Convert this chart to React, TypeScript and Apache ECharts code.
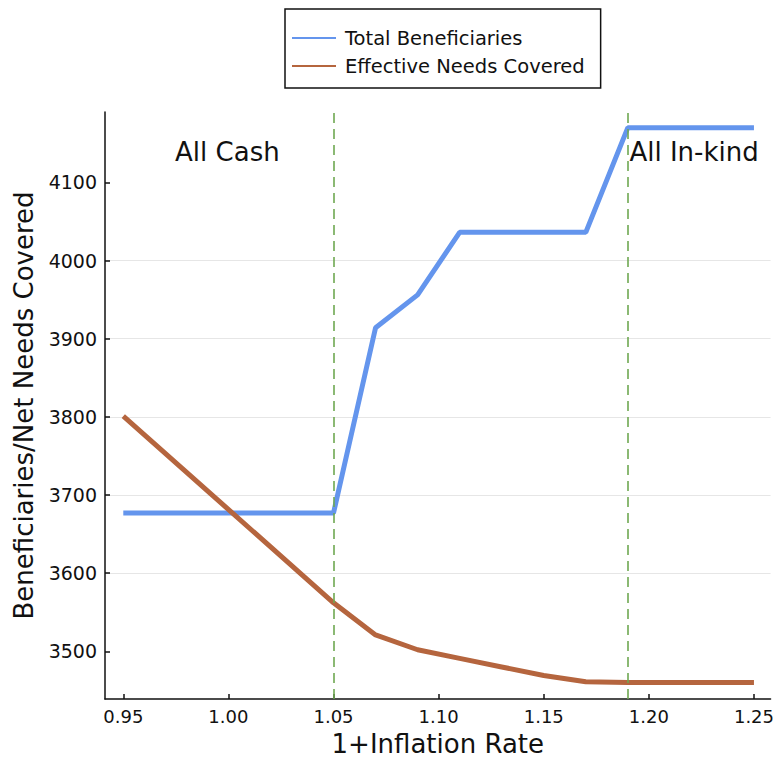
import React, { useEffect, useRef } from "react";
import * as echarts from "echarts";

const tbX = [0.95, 1.05, 1.07, 1.09, 1.11, 1.17, 1.19, 1.25];
const totalBeneficiaries = [3677, 3677, 3914, 3956, 4036, 4036, 4170, 4170];
const encX = [0.95, 1.05, 1.07, 1.09, 1.11, 1.13, 1.15, 1.17, 1.19, 1.25];
const effectiveNeeds = [3801, 3562, 3521, 3502, 3491, 3480, 3469, 3461, 3460, 3460];
const xTicks = [0.95, 1.0, 1.05, 1.1, 1.15, 1.2, 1.25];
const yTicks = [3500, 3600, 3700, 3800, 3900, 4000, 4100];
const regimeLines = [1.05, 1.19];
const annotations = [
  { name: "All Cash", value: [0.9995, 4139] },
  { name: "All In-kind", value: [1.2215, 4139] },
];

const FONT = "'DejaVu Sans', sans-serif";
const BLUE = "#6495ED";
const BROWN = "#B5653E";
const GREEN = "#6FA852";
const INK = "#111111";

export default function App() {
  const ref = useRef<HTMLDivElement>(null);
  useEffect(() => {
    if (!ref.current) return;
    const chart = echarts.init(ref.current, null, { renderer: "svg" });
    chart.setOption({
      animation: false,
      backgroundColor: "#ffffff",
      textStyle: { fontFamily: FONT, color: INK },
      legend: {
        data: ["Total Beneficiaries", "Effective Needs Covered"],
        orient: "vertical",
        left: 285,
        top: 9,
        padding: [19, 16, 12, 7],
        itemGap: 8,
        itemWidth: 44,
        itemHeight: 2,
        icon: "rect",
        borderColor: INK,
        borderWidth: 1.5,
        borderRadius: 0,
        textStyle: { fontFamily: FONT, fontSize: 19.5, color: INK, lineHeight: 19, padding: [0, 0, 0, 4] },
      },
      grid: { left: 105, right: 4, top: 112, bottom: 60, containLabel: false },
      xAxis: {
        type: "value",
        min: 0.9413,
        max: 1.2579,
        name: "1+Inflation Rate",
        nameLocation: "middle",
        nameGap: 32,
        nameTextStyle: { fontFamily: FONT, fontSize: 26, color: INK },
        axisLine: { show: true, lineStyle: { color: INK, width: 1.5 } },
        axisTick: { show: true, inside: true, length: 5, customValues: xTicks, lineStyle: { color: INK, width: 1.5 } },
        axisLabel: {
          customValues: xTicks,
          formatter: (v: number) => v.toFixed(2),
          fontFamily: FONT,
          fontSize: 18,
          color: INK,
          margin: 8,
        },
        splitLine: { show: false },
      },
      yAxis: {
        type: "value",
        min: 3439,
        max: 4190,
        splitNumber: 8,
        name: "Beneficiaries/Net Needs Covered",
        nameLocation: "middle",
        nameGap: 68,
        nameTextStyle: { fontFamily: FONT, fontSize: 26, color: INK },
        axisLine: { show: true, lineStyle: { color: INK, width: 1.5 } },
        axisTick: { show: true, inside: true, length: 5, customValues: yTicks, lineStyle: { color: INK, width: 1.5 } },
        axisLabel: {
          customValues: yTicks,
          formatter: (v: number) => String(v),
          fontFamily: FONT,
          fontSize: 19,
          color: INK,
          margin: 8,
        },
        splitLine: { show: true, showMinLine: false, showMaxLine: false, lineStyle: { color: "#e6e6e6", width: 1 } },
      },
      series: [
        {
          name: "Total Beneficiaries",
          type: "line",
          data: tbX.map((x, i) => [x, totalBeneficiaries[i]]),
          showSymbol: false,
          symbol: "none",
          lineStyle: { color: BLUE, width: 5 },
          itemStyle: { color: BLUE },
          z: 3,
        },
        {
          name: "Effective Needs Covered",
          type: "line",
          data: encX.map((x, i) => [x, effectiveNeeds[i]]),
          showSymbol: false,
          symbol: "none",
          lineStyle: { color: BROWN, width: 5 },
          itemStyle: { color: BROWN },
          z: 3,
          markLine: {
            silent: true,
            symbol: ["none", "none"],
            label: { show: false },
            lineStyle: { color: GREEN, type: [10, 6], width: 1.6 },
            data: regimeLines.map((x) => ({ xAxis: x })),
            z: 5,
          },
        },
        {
          name: "annotations",
          type: "scatter",
          silent: true,
          symbolSize: 0,
          itemStyle: { opacity: 1, color: INK },
          data: annotations,
          label: {
            show: true,
            position: "inside",
            formatter: "{b}",
            fontFamily: FONT,
            fontSize: 26,
            color: INK,
            opacity: 1,
          },
          z: 6,
        },
      ],
    });
    return () => chart.dispose();
  }, []);
  return (
    <div
      ref={ref}
      style={{ position: "fixed", left: 0, top: 0, width: 777, height: 762, background: "#fff" }}
    />
  );
}
